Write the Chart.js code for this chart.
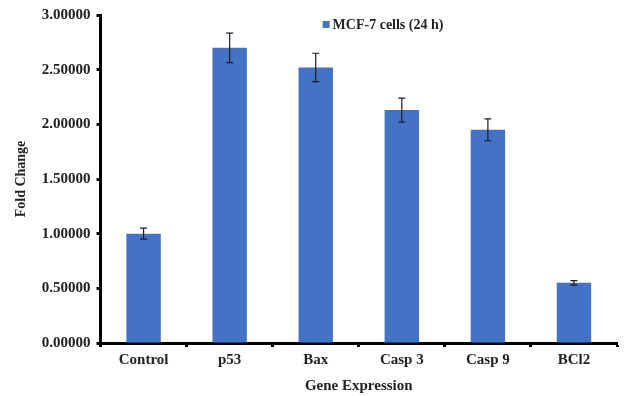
<!DOCTYPE html>
<html>
<head>
<meta charset="utf-8">
<script src="https://cdn.jsdelivr.net/npm/chart.js@4"></script>
<style>
  body { margin: 0; background: #fff; }
  #wrap { width: 625px; height: 396px; }
</style>
</head>
<body>
<div id="wrap"><canvas id="Graphc"></canvas></div>
<script>
var genes = ['Control', 'p53', 'Bax', 'Casp 3', 'Casp 9', 'BCl2'];
var foldChange = [1.0, 2.70, 2.52, 2.13, 1.95, 0.55];
var errors = [0.05, 0.135, 0.13, 0.11, 0.10, 0.02];
var yTicks = [0, 0.5, 1.0, 1.5, 2.0, 2.5, 3.0];

var serif = "'Liberation Serif', 'Times New Roman', serif";
var barColor = 'rgb(68, 114, 196)';

// error bars drawn through the y scale
var errorBars = {
    id: 'errorBars',
    afterDatasetsDraw: function(chart) {
        var ctx = chart.ctx;
        var yScale = chart.scales.y;
        var meta = chart.getDatasetMeta(0);
        ctx.save();
        ctx.strokeStyle = '#1b1b2a';
        ctx.lineWidth = 1.2;
        meta.data.forEach(function(bar, i) {
            var v = foldChange[i], e = errors[i];
            var yTop = yScale.getPixelForValue(v + e);
            var yBot = yScale.getPixelForValue(v - e);
            ctx.beginPath();
            ctx.moveTo(bar.x, yTop);
            ctx.lineTo(bar.x, yBot);
            ctx.moveTo(bar.x - 3.5, yTop);
            ctx.lineTo(bar.x + 3.5, yTop);
            ctx.moveTo(bar.x - 3.5, yBot);
            ctx.lineTo(bar.x + 3.5, yBot);
            ctx.stroke();
        });
        ctx.restore();
    }
};

// legend sits inside the plot, near the top
var innerLegend = {
    id: 'innerLegend',
    afterDraw: function(chart) {
        var ctx = chart.ctx;
        var area = chart.chartArea;
        var x = area.left + (area.right - area.left) * 0.43;
        var y = area.top + 10;
        ctx.save();
        ctx.fillStyle = barColor;
        ctx.fillRect(x, y - 4, 7, 7);
        ctx.fillStyle = '#222';
        ctx.font = 'bold 14px ' + serif;
        ctx.textBaseline = 'middle';
        ctx.fillText(chart.data.datasets[0].label, x + 10, y);
        ctx.restore();
    }
};

var ctx = document.getElementById('Graphc').getContext('2d');
var chart = new Chart(ctx, {
    type: 'bar',
    data: {
        labels: genes,
        datasets: [{
            label: 'MCF-7 cells (24 h)',
            backgroundColor: barColor,
            data: foldChange,
            categoryPercentage: 0.8,
            barPercentage: 0.5
        }]
    },
    plugins: [errorBars, innerLegend],
    options: {
        responsive: true,
        maintainAspectRatio: false,
        animation: false,
        layout: { padding: { top: 9, right: 8, left: 9, bottom: 1 } },
        plugins: {
            tooltip: { enabled: false },
            legend: { display: false }
        },
        scales: {
            x: {
                grid: {
                    offset: true,
                    drawOnChartArea: false,
                    drawTicks: true,
                    tickLength: 4,
                    tickWidth: 3,
                    tickColor: '#000'
                },
                border: { color: '#000', width: 3 },
                ticks: {
                    color: '#222',
                    padding: 4,
                    font: { family: serif, size: 15, weight: 'bold' }
                },
                title: {
                    display: true,
                    text: 'Gene Expression',
                    color: '#222',
                    padding: { top: 4, bottom: 0 },
                    font: { family: serif, size: 15, weight: 'bold' }
                }
            },
            y: {
                min: 0,
                max: 3,
                afterBuildTicks: function(axis) {
                    axis.ticks = yTicks.map(function(v) { return { value: v }; });
                },
                grid: {
                    drawOnChartArea: false,
                    drawTicks: true,
                    tickLength: 4,
                    tickWidth: 3,
                    tickColor: '#000'
                },
                border: { color: '#000', width: 3 },
                ticks: {
                    color: '#222',
                    padding: 6,
                    font: { family: serif, size: 15, weight: 'bold' },
                    callback: function(v) { return Number(v).toFixed(5); }
                },
                title: {
                    display: true,
                    text: 'Fold Change',
                    color: '#222',
                    padding: { bottom: 6 },
                    font: { family: serif, size: 14, weight: 'bold' }
                }
            }
        }
    }
});
</script>
</body>
</html>
